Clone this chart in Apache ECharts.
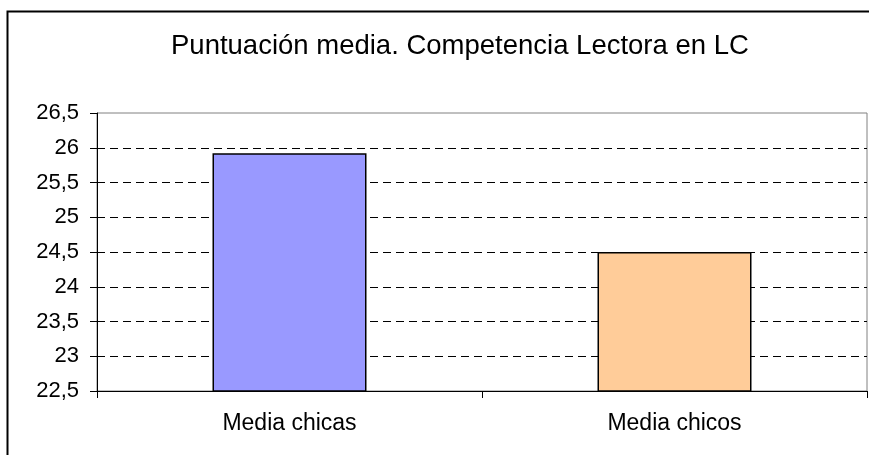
<!DOCTYPE html>
<html><head><meta charset="utf-8">
<script src="https://cdn.jsdelivr.net/npm/echarts@6/dist/echarts.min.js"></script>
<style>html,body{margin:0;padding:0;background:#fff}#c{width:869px;height:455px}</style>
</head><body><div id="c"></div>
<script>
const title = 'Puntuación media. Competencia Lectora en LC';
const categories = ['Media chicas', 'Media chicos'];
const values = [25.92, 24.5];
const barColors = ['#9999FF', '#FFCC99'];
const yMin = 22.5, yMax = 26.5, yStep = 0.5;

const nLines = Math.round((yMax - yMin) / yStep) + 1;
const splitColors = Array.from({length: nLines}, (_, i) => (i === 0 || i === nLines - 1) ? 'rgba(0,0,0,0)' : '#000');

const chart = echarts.init(document.getElementById('c'), null, {renderer: 'canvas'});
chart.setOption({
  animation: false,
  backgroundColor: '#fff',
  title: {
    text: title, left: 166, top: 27,
    textStyle: {fontFamily: 'Liberation Sans, Arial', fontSize: 27.5, fontWeight: 'normal', color: '#000'}
  },
  graphic: [{
    type: 'rect', shape: {x: 7.5, y: 11.5, width: 880, height: 460},
    style: {fill: 'none', stroke: '#000', lineWidth: 2}, silent: true, z: 100
  }],
  grid: {left: 97, right: 2, top: 113, bottom: 64, show: true, borderColor: '#808080', borderWidth: 1, backgroundColor: 'transparent'},
  xAxis: {
    type: 'category', data: categories,
    axisLine: {lineStyle: {color: '#000', width: 1}},
    axisTick: {show: true, length: 7, lineStyle: {color: '#000'}},
    axisLabel: {fontFamily: 'Liberation Sans, Arial', fontSize: 23, color: '#000', margin: 21}
  },
  yAxis: {
    type: 'value', min: yMin, max: yMax, interval: yStep,
    axisLine: {show: true, lineStyle: {color: '#000', width: 1}},
    axisTick: {show: true, length: 7, lineStyle: {color: '#000'}},
    axisLabel: {fontFamily: 'Liberation Sans, Arial', fontSize: 22, color: '#000', margin: 18,
      formatter: v => String(v).replace('.', ',')},
    splitLine: {show: true, lineStyle: {color: splitColors, type: [8, 5], width: 1}}
  },
  series: [{
    type: 'bar', barWidth: '40%',
    data: values.map((v, i) => ({value: v, itemStyle: {color: barColors[i], borderColor: '#000', borderWidth: 1.5}}))
  }]
});
</script></body></html>
